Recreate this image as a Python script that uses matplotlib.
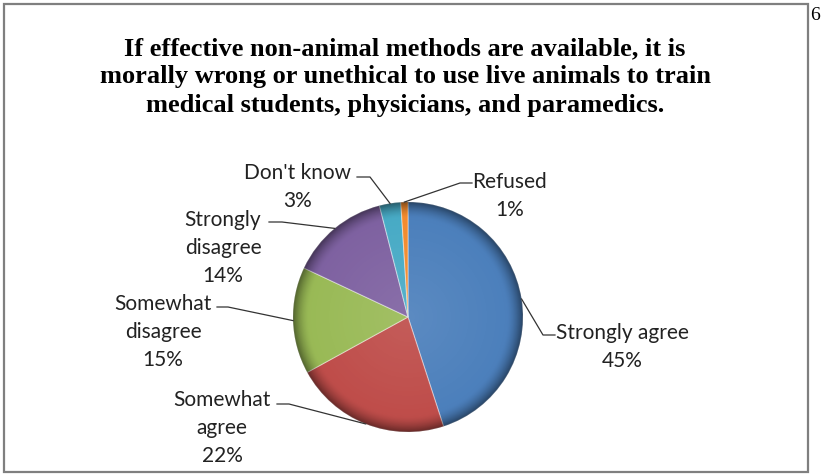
import numpy as np
import matplotlib.pyplot as plt
from matplotlib.patches import Rectangle

# survey answers, clockwise from 12 o'clock
categories = ['Strongly agree', 'Somewhat\nagree', 'Somewhat\ndisagree',
              'Strongly\ndisagree', "Don't know", 'Refused']
shares = [45, 22, 15, 14, 3, 1]
colors = ['#4A7EBB', '#BE4B48', '#98B954', '#7D60A0', '#46AAC5', '#F38A2C']

title = ("If effective non-animal methods are available, it is\n"
         "morally wrong or unethical to use live animals to train\n"
         "medical students, physicians, and paramedics.")

W, H = 826, 475
cx, cy, R = 408, H - 317, 115

# label layout (pixel coords from top): text centre x, centre y
label_pos = [(622, 347), (222, 428), (163, 332), (223, 248), (298, 187), (510, 196)]
leader_y = [335, 404, 307, 222, 177, 183]
leader_x = [(555, 543), (277, 289), (217, 228), (269, 282), (357, 370), (472, 460)]

fig = plt.figure(figsize=(8.26, 4.75), dpi=100)
ax = fig.add_axes([0, 0, 1, 1])

wedges, _ = ax.pie(shares, colors=colors, startangle=90, counterclock=False,
                   center=(cx, cy), radius=R,
                   wedgeprops=dict(edgecolor=(1, 1, 1, 0.4), linewidth=0.8))

# excel-like shading: dark bevel at the rim, a touch lighter towards the centre
n = 400
xs = np.linspace(cx - R, cx + R, n)
ys = np.linspace(cy - R, cy + R, n)
X, Y = np.meshgrid(xs, ys)
r = np.hypot(X - cx, Y - cy) / R
shade = np.zeros((n, n, 4))
dark = np.clip((r - 0.86) / 0.14, 0, 1) ** 1.6 * 0.45
light = np.clip(1 - r, 0, 1) * 0.10
alpha = dark + light
shade[..., :3] = (light / np.maximum(alpha, 1e-6))[..., None]
shade[..., 3] = alpha
for w in wedges:
    im = ax.imshow(shade, extent=(cx - R, cx + R, cy - R, cy + R), origin='lower',
                   interpolation='bilinear', zorder=3)
    im.set_clip_path(w)

lab_font = dict(family=['Lato', 'DejaVu Sans'], fontsize=15, color='#222222',
                linespacing=1.5)
for i, w in enumerate(wedges):
    mid = np.deg2rad((w.theta1 + w.theta2) / 2)
    px, py = cx + R * np.cos(mid), cy + R * np.sin(mid)
    tx, ty = label_pos[i]
    x0, x1 = leader_x[i]
    ly = H - leader_y[i]
    ax.plot([x0, x1, px], [ly, ly, py], color='#333333', lw=0.9, zorder=4)
    ax.text(tx, H - ty, f"{categories[i]}\n{shares[i]}%", ha='center', va='center',
            **lab_font)

ax.text(405, H - 77, title, ha='center', va='center', fontsize=19, fontweight='bold',
        family='Liberation Serif', linespacing=1.3)
ax.text(815, H - 15, '6', ha='center', va='center', fontsize=14,
        family='Liberation Serif')

ax.add_patch(Rectangle((4, 3), 804, H - 7, fill=False, edgecolor='#7F7F7F', lw=1.6))

ax.set_xlim(0, W)
ax.set_ylim(0, H)
ax.set_aspect('auto')
ax.set_axis_off()

fig.savefig('out.png', dpi=100)
